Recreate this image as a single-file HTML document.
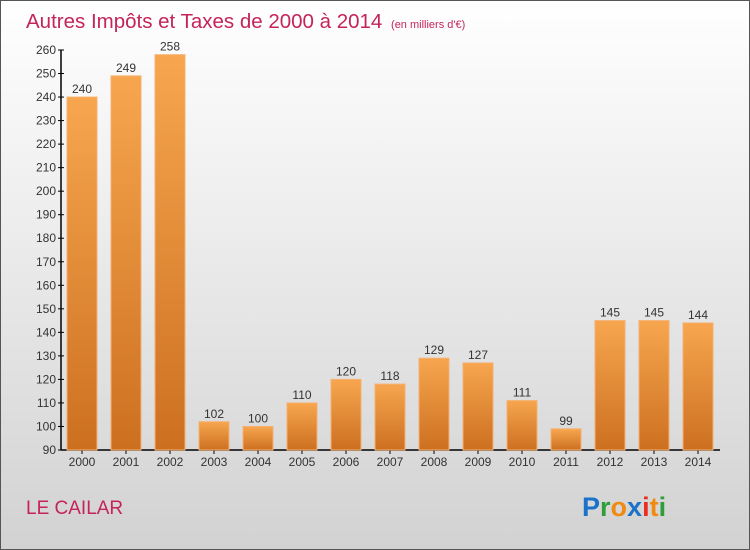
<!DOCTYPE html>
<html><head><meta charset="utf-8"><style>
body{margin:0}
svg{display:block;font-family:"Liberation Sans",sans-serif}
</style></head><body>
<svg id="c" width="750" height="550" viewBox="0 0 750 550">
<defs>
<linearGradient id="bg" x1="0" y1="0" x2="0" y2="1"><stop offset="0" stop-color="#ffffff"/><stop offset="1" stop-color="#d2d2d2"/></linearGradient>
<linearGradient id="bar" x1="0" y1="0" x2="0" y2="1"><stop offset="0" stop-color="#f7a64f"/><stop offset="1" stop-color="#cc7020"/></linearGradient>
</defs>
<rect x="0.5" y="0.5" width="749" height="549" fill="url(#bg)" stroke="#555"/>
<text x="26" y="28" font-size="20.5" fill="#c4245a">Autres Impôts et Taxes de 2000 à 2014 <tspan font-size="11" dx="3">(en milliers d'€)</tspan></text>
<g id="axes"></g>
<g id="bars"></g>
<text x="26" y="514" font-size="19" fill="#c4245a">LE CAILAR</text>
<text x="582" y="516" font-size="27" font-weight="bold"><tspan fill="#1a73c9">P</tspan><tspan fill="#2e9e3a">r</tspan><tspan fill="#f08a10">o</tspan><tspan fill="#1a73c9">x</tspan><tspan fill="#e83020">i</tspan><tspan fill="#f08a10">t</tspan><tspan fill="#2e9e3a">i</tspan></text>
</svg>
<script>
const years=["2000","2001","2002","2003","2004","2005","2006","2007","2008","2009","2010","2011","2012","2013","2014"];
const values=[240,249,258,102,100,110,120,118,129,127,111,99,145,145,144];
const yTicks=[90,100,110,120,130,140,150,160,170,180,190,200,210,220,230,240,250,260];
const NS="http://www.w3.org/2000/svg";
const y0=450,yTop=50,vMin=90,vMax=260;
function yS(v){return y0-(v-vMin)/(vMax-vMin)*(y0-yTop);}
function xS(i){return 82+i*44;}
function mk(tag,attrs,parent){const e=document.createElementNS(NS,tag);for(const k in attrs)e.setAttribute(k,attrs[k]);parent.appendChild(e);return e;}
const ax=document.getElementById('axes'),bg=document.getElementById('bars');
let l=mk('line',{x1:61,y1:yTop,x2:61,y2:y0,stroke:'#000','stroke-width':1.5},ax);


l=mk('line',{x1:61,y1:y0,x2:720,y2:y0,stroke:'#000','stroke-width':1.5},ax);


yTicks.forEach(v=>{
 const y=yS(v);
 mk('line',{x1:58,y1:y,x2:64,y2:y,stroke:'#000'},ax);
 const t=mk('text',{x:56,y:y+4,'font-size':12,fill:'#333','text-anchor':'end'},ax);
 t.textContent=v;
 
 
});
years.forEach((yr,i)=>{
 const x=xS(i),v=values[i],y=yS(v);
 const r=mk('rect',{x:x-15,y:y,width:30,height:y0-y,fill:'url(#bar)',stroke:'#f5b070','stroke-width':1},bg);
 
 
 const t=mk('text',{x:x,y:y-4,'font-size':12,fill:'#333','text-anchor':'middle'},bg);
 t.textContent=v;
 
 
 mk('line',{x1:x,y1:y0,x2:x,y2:y0+4,stroke:'#000'},ax);
 const xl=mk('text',{x:x,y:466,'font-size':12,fill:'#333','text-anchor':'middle'},ax);
 xl.textContent=yr;
 
 
});
</script>
</body></html>
